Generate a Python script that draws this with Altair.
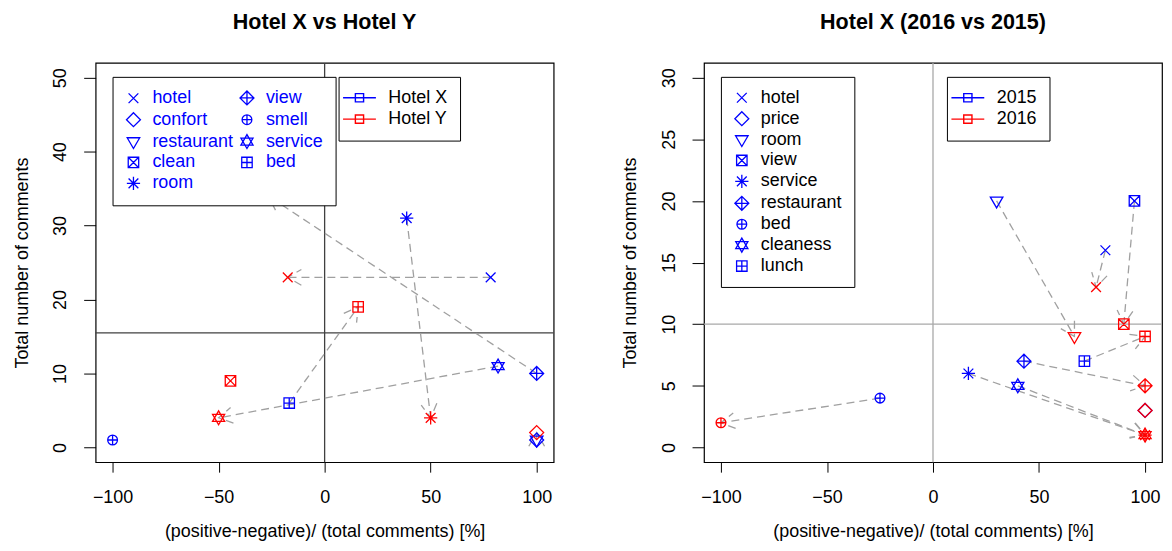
import math
import altair as alt
import pandas as pd

FONT = "Liberation Sans"
W, H = 460, 401
XDOM = [-108, 108]
XTICKS = [-100, -50, 0, 50, 100]
XTITLE = "(positive-negative)/ (total comments) [%]"
YTITLE = "Total number of comments"

# ---------------- data: left panel (Hotel X vs Hotel Y) ----------------
left_aspects = ["hotel", "confort", "restaurant", "clean", "room", "view", "smell", "service", "bed"]
left_x_hotelX = [78.3, 100, 100, None, 38.7, 100, -100, 81.8, -16.7]
left_y_hotelX = [23, 1, 1, None, 31, 10, 1, 11, 6]
left_x_hotelY = [-17.4, 100, None, -44.4, 50, -26.5, None, -50, 15.8]
left_y_hotelY = [23, 2, None, 9, 4, 34, None, 4, 19]
left_series = ["Hotel X", "Hotel Y"]
left_hline = 15.5

# ---------------- data: right panel (Hotel X 2016 vs 2015) ----------------
right_aspects = ["hotel", "price", "room", "view", "service", "restaurant", "bed", "cleaness", "lunch"]
right_x_2015 = [81.3, 100, 30, 95, 16.7, 42.9, -25, 40, 71.4]
right_y_2015 = [16, 3, 20, 20, 6, 7, 4, 5, 7]
right_x_2016 = [76.9, 100, 66.7, 90, 100, 100, -100, 100, 100]
right_y_2016 = [13, 3, 9, 10, 1, 5, 2, 1, 9]
right_series = ["2015", "2016"]
right_hline = 10

# ---------------- symbol paths (R pch look-alikes) ----------------
PCH = {
    4: "M-0.7,-0.7L0.7,0.7M-0.7,0.7L0.7,-0.7",
    5: "M0,-1L1,0L0,1L-1,0Z",
    6: "M-0.9,-0.55L0.9,-0.55L0,1Z",
    7: "M-0.75,-0.75L0.75,-0.75L0.75,0.75L-0.75,0.75ZM-0.75,-0.75L0.75,0.75M-0.75,0.75L0.75,-0.75",
    8: "M-0.95,0L0.95,0M0,-0.95L0,0.95M-0.7,-0.7L0.7,0.7M-0.7,0.7L0.7,-0.7",
    9: "M0,-1L1,0L0,1L-1,0ZM-1,0L1,0M0,-1L0,1",
    10: "M-0.7,0A0.7,0.7 0 1,0 0.7,0A0.7,0.7 0 1,0 -0.7,0ZM-0.7,0L0.7,0M0,-0.7L0,0.7",
    11: "M0,-1L0.87,0.5L-0.87,0.5ZM0,1L0.87,-0.5L-0.87,-0.5Z",
    12: "M-0.75,-0.75L0.75,-0.75L0.75,0.75L-0.75,0.75ZM-0.75,0L0.75,0M0,-0.75L0,0.75",
}
PCH_ORDER = [4, 5, 6, 7, 8, 9, 10, 11, 12]
ARROW = "M-1,-0.577L0,0L-1,0.577"
LINE_SQ = "M-2,0L2,0M-0.5,-0.5L0.5,-0.5L0.5,0.5L-0.5,0.5Z"


def panel(title, aspects, xa, ya, xb, yb, series, ncol, ydom, yticks,
          hval, line_color, label_color):
    pch_of = {a: PCH[p] for a, p in zip(aspects, PCH_ORDER)}
    rows = []
    for s, xs, ys in ((series[0], xa, ya), (series[1], xb, yb)):
        for a, x, y in zip(aspects, xs, ys):
            if x is not None:
                rows.append({"aspect": a, "series": s, "x": x, "y": y})
    pts = pd.DataFrame(rows)

    sx = W / (XDOM[1] - XDOM[0])
    sy = H / (ydom[1] - ydom[0])
    arr = []
    for a, x1, y1, x2, y2 in zip(aspects, xa, ya, xb, yb):
        if None in (x1, y1, x2, y2):
            continue
        dx = (x2 - x1) * sx
        dy = -(y2 - y1) * sy
        if abs(dx) < 1e-9 and abs(dy) < 1e-9:
            continue
        ang = (math.degrees(math.atan2(dy, dx)) + 360) % 360
        arr.append({"aspect": a, "x1": x1, "y1": y1, "x2": x2, "y2": y2, "ang": ang})
    arrows = pd.DataFrame(arr)

    xscale = alt.Scale(domain=XDOM, nice=False, zero=False)
    yscale = alt.Scale(domain=ydom, nice=False, zero=False)
    xaxis = alt.Axis(values=XTICKS, title=XTITLE, grid=False, domain=False,
                     tickSize=10, tickColor="black", labelPadding=16,
                     minExtent=44, maxExtent=44, titlePadding=17,
                     labelFlush=False, labelFont=FONT, labelFontSize=18,
                     labelColor="black", titleFont=FONT, titleFontSize=18,
                     titleFontWeight="normal", titleColor="black")
    yaxis = alt.Axis(values=yticks, title=YTITLE, grid=False, domain=False,
                     tickSize=12, tickColor="black", labelPadding=14,
                     labelAngle=270, labelAlign="center", labelBaseline="bottom",
                     minExtent=44, maxExtent=44, titlePadding=20.7,
                     titleAngle=270, titleBaseline="bottom",
                     labelFont=FONT, labelFontSize=18, labelColor="black",
                     titleFont=FONT, titleFontSize=18, titleFontWeight="normal",
                     titleColor="black")

    def X(f):
        return alt.X(f, type="quantitative", scale=xscale, axis=xaxis)

    def Y(f):
        return alt.Y(f, type="quantitative", scale=yscale, axis=yaxis)

    vline = alt.Chart(pd.DataFrame({"x": [0]})).mark_rule(
        color=line_color, strokeWidth=1.3).encode(x=X("x"))
    hline = alt.Chart(pd.DataFrame({"y": [hval]})).mark_rule(
        color=line_color, strokeWidth=1.3).encode(y=Y("y"))

    segs = alt.Chart(arrows).mark_rule(
        color="#a0a0a0", strokeDash=[8, 5], strokeWidth=1.3
    ).encode(x=X("x1"), y=Y("y1"), x2="x2:Q", y2="y2:Q")

    heads = alt.Chart(arrows).mark_point(
        shape=ARROW, filled=False, size=750, color="#a0a0a0",
        strokeWidth=1.3, strokeDash=[8, 5], opacity=1
    ).encode(x=X("x2"), y=Y("y2"), angle=alt.Angle("ang:Q", scale=None))

    points = alt.Chart(pts).mark_point(
        filled=False, size=196, strokeWidth=1.3, opacity=1
    ).encode(
        x=X("x"), y=Y("y"),
        color=alt.Color(
            "series:N",
            scale=alt.Scale(domain=series, range=["#0000ff", "#ff0000"]),
            legend=alt.Legend(
                title=None, orient="none", legendX=244, legendY=14,
                symbolType=LINE_SQ, symbolSize=272, symbolStrokeWidth=1.4,
                labelFont=FONT, labelFontSize=18, labelColor="black",
                labelOffset=20, padding=12, rowPadding=3.5,
                strokeColor="black", fillColor="white", cornerRadius=0,
            ),
        ),
        shape=alt.Shape(
            "aspect:N",
            scale=alt.Scale(domain=aspects, range=[pch_of[a] for a in aspects]),
            legend=alt.Legend(
                title=None, orient="none", legendX=17, legendY=14,
                columns=ncol,
                symbolStrokeColor="blue", symbolSize=196, symbolStrokeWidth=1.3,
                labelFont=FONT, labelFontSize=18, labelColor=label_color,
                labelOffset=10, padding=12, rowPadding=2, columnPadding=3,
                strokeColor="black", fillColor="white", cornerRadius=0,
            ),
        ),
    )

    return alt.layer(vline, hline, segs, heads, points).properties(
        width=W, height=H,
        title=alt.TitleParams(text=title, font=FONT, fontSize=21.6,
                              fontWeight="bold", color="black",
                              anchor="middle", baseline="bottom", offset=7),
    ).resolve_scale(color="independent", shape="independent")


left = panel("Hotel X vs Hotel Y", left_aspects, left_x_hotelX, left_y_hotelX,
             left_x_hotelY, left_y_hotelY, left_series, 2,
             [-2, 52], [0, 10, 20, 30, 40, 50], left_hline, "#404040", "blue")
right = panel("Hotel X (2016 vs 2015)", right_aspects, right_x_2015, right_y_2015,
              right_x_2016, right_y_2016, right_series, 1,
              [-1.2, 31.2], [0, 5, 10, 15, 20, 25, 30], right_hline, "#a8a8a8", "black")

chart = alt.hconcat(left, right, spacing=65).resolve_scale(
    color="independent", shape="independent"
).properties(
    padding={"left": 4, "top": 2, "right": 0, "bottom": 0}
).configure_view(stroke="black", strokeWidth=1.2)

chart.save("out.html", embed_options={"renderer": "svg", "actions": False})
